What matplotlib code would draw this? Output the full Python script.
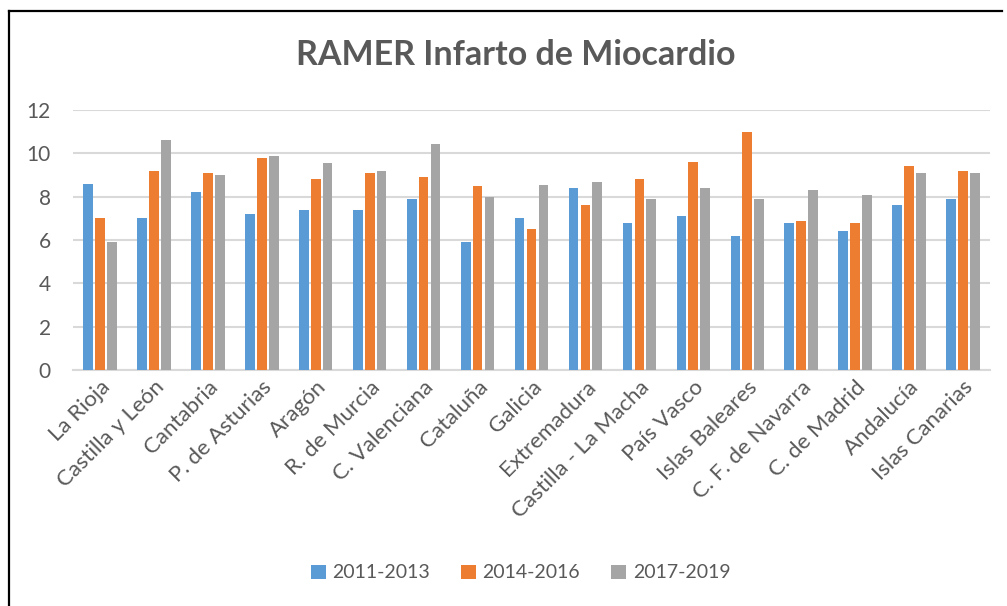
import numpy as np
import matplotlib
matplotlib.use("Agg")
import matplotlib.pyplot as plt
from matplotlib.lines import Line2D

plt.rcParams['font.family'] = ['Lato', 'DejaVu Sans']

regions = ["La Rioja", "Castilla y León", "Cantabria", "P. de Asturias", "Aragón",
           "R. de Murcia", "C. Valenciana", "Cataluña", "Galicia", "Extremadura",
           "Castilla - La Macha", "País Vasco", "Islas Baleares", "C. F. de Navarra",
           "C. de Madrid", "Andalucía", "Islas Canarias"]
p2011 = [8.6, 7.0, 8.2, 7.2, 7.4, 7.4, 7.9, 5.9, 7.0, 8.4, 6.8, 7.1, 6.2, 6.8, 6.4, 7.6, 7.9]
p2014 = [7.0, 9.2, 9.1, 9.8, 8.8, 9.1, 8.9, 8.5, 6.5, 7.6, 8.8, 9.6, 11.0, 6.9, 6.8, 9.4, 9.2]
p2017 = [5.9, 10.6, 9.0, 9.9, 9.55, 9.2, 10.45, 8.0, 8.52, 8.7, 7.9, 8.4, 7.9, 8.3, 8.1, 9.1, 9.1]
series = ["2011-2013", "2014-2016", "2017-2019"]
colors = ["#5b9bd5", "#ed7d31", "#a5a5a5"]
txt = "#595959"

fig = plt.figure(figsize=(10.07, 6.06), dpi=100, facecolor="white")
ax = fig.add_axes([73/1007, 1 - 370/606, (990 - 73)/1007, 260/606])

x = np.arange(len(regions))
w = 0.18
for k, (vals, c, lab) in enumerate(zip([p2011, p2014, p2017], colors, series)):
    ax.bar(x + (k - 1) * 0.22, vals, width=w, color=c, label=lab, zorder=3)

ax.set_xlim(-0.5, len(regions) - 0.5)
ax.set_ylim(0, 12)
ax.set_yticks(range(0, 13, 2))
ax.yaxis.grid(True, color="#d9d9d9", linewidth=1.5, zorder=0)
for s in ["top", "right", "left"]:
    ax.spines[s].set_visible(False)
ax.spines["bottom"].set_color("#d9d9d9")
ax.spines["bottom"].set_linewidth(1.5)
ax.tick_params(axis="y", length=0, pad=16, labelsize=15, labelcolor=txt)
ax.tick_params(axis="x", length=0, pad=5, labelsize=16, labelcolor=txt)
ax.set_xticks(x)
ax.set_xticklabels(regions, rotation=45, ha="right", rotation_mode="anchor")

fig.text(0.512, 0.909, "RAMER Infarto de Miocardio", ha="center", va="center",
         fontsize=24.5, fontweight="bold", color=txt)

fig.legend(loc="center", bbox_to_anchor=(0.517, 1 - 573/606), ncol=3, frameon=False,
           fontsize=14, labelcolor=txt, handlelength=0.75, handleheight=0.75,
           handletextpad=0.35, columnspacing=1.6)

# frame of the cropped screenshot (left and top edges)
fig.add_artist(Line2D([9/1007, 9/1007], [0, 1 - 11/606], color="black", linewidth=1.6,
                      transform=fig.transFigure))
fig.add_artist(Line2D([9/1007, 1002/1007], [1 - 11/606, 1 - 11/606], color="black",
                      linewidth=1.6, transform=fig.transFigure))

fig.savefig("out.png", dpi=100, facecolor="white")
